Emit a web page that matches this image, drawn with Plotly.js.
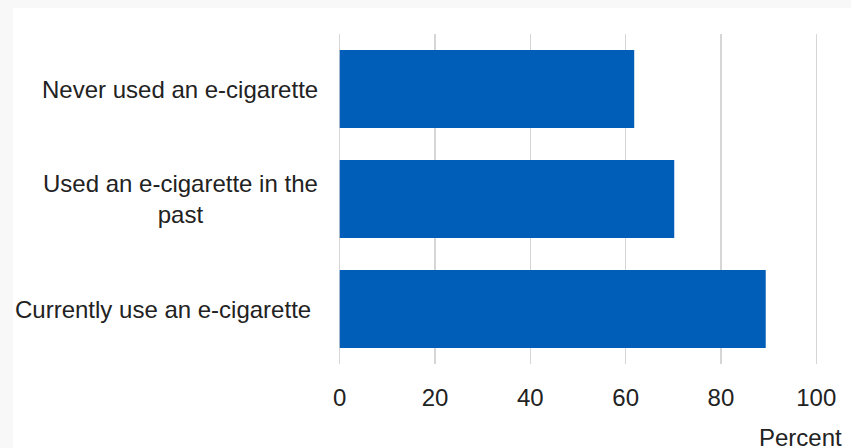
<!DOCTYPE html>
<html>
<head>
<meta charset="utf-8">
<script src="https://cdn.plot.ly/plotly-3.0.1.min.js"></script>
<style>
  html, body { margin: 0; padding: 0; background: #f8f8f8; width: 851px; height: 448px; overflow: hidden; }
  #chart { position: absolute; left: 13px; top: 8px; width: 838px; height: 440px; background: #ffffff; }
</style>
</head>
<body>
<div id="chart"></div>
<script>
// Data (top to bottom as displayed)
const categories = [
  "Never used an e-cigarette",
  "Used an e-cigarette in the<br>past",
  "Currently use an e-cigarette\u00a0"
];
const values = [61.8, 70.2, 89.4];
const xTicks = [0, 20, 40, 60, 80, 100];
const xAxisLabel = "Percent";

const FONT = "Liberation Sans, Arial, sans-serif";
const TEXT_COLOR = "#222222";
const FS = 24;

const trace = {
  type: "bar",
  orientation: "h",
  x: values,
  y: categories,
  marker: { color: "#005EB8", line: { width: 0 } },
  hoverinfo: "none"
};

const labelAnnotations = categories.map(c => ({
  xref: "x", yref: "y",
  x: 0, y: c,
  xanchor: "right", yanchor: "middle",
  xshift: -20,
  text: c,
  align: "center",
  showarrow: false,
  font: { family: FONT, size: FS, color: TEXT_COLOR }
}));

const layout = {
  width: 838, height: 440,
  margin: { l: 322, r: 30, t: 26, b: 84, pad: 0 },
  paper_bgcolor: "#ffffff",
  plot_bgcolor: "#ffffff",
  showlegend: false,
  bargap: 0.29,
  font: { family: FONT, size: FS, color: TEXT_COLOR },
  xaxis: {
    range: [-1, 101],
    tickvals: xTicks,
    ticktext: xTicks.map(String),
    showgrid: true,
    gridcolor: "#d6d6d6",
    gridwidth: 1.3,
    zeroline: false,
    showline: false,
    ticks: "outside",
    ticklen: 12,
    tickcolor: "rgba(0,0,0,0)",
    tickfont: { family: FONT, size: FS, color: TEXT_COLOR },
    fixedrange: true
  },
  yaxis: {
    categoryorder: "array",
    categoryarray: categories.slice().reverse(),
    autorange: false,
    range: [-0.5, 2.5],
    showticklabels: false,
    showgrid: false,
    zeroline: false,
    showline: false,
    ticks: "",
    fixedrange: true
  },
  annotations: labelAnnotations.concat([{
    xref: "paper", yref: "paper",
    x: 1, y: 0,
    xanchor: "right", yanchor: "middle",
    xshift: 23, yshift: -73,
    text: xAxisLabel,
    showarrow: false,
    font: { family: FONT, size: FS, color: TEXT_COLOR }
  }])
};

Plotly.newPlot("chart", [trace], layout, { displayModeBar: false, staticPlot: true });
</script>
</body>
</html>
